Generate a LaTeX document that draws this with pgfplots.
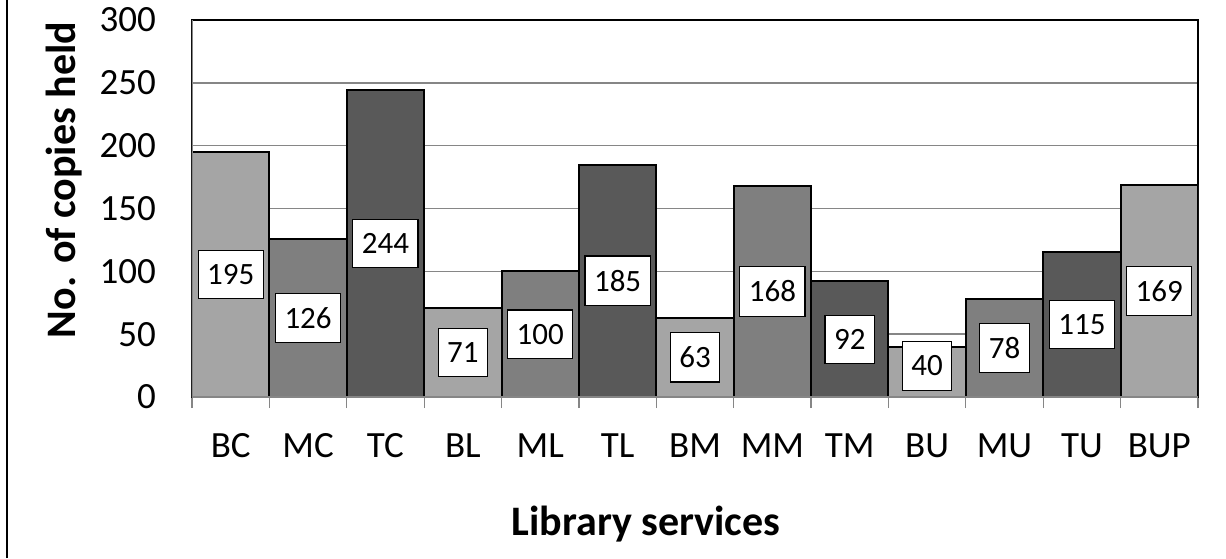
\documentclass[border=0pt]{standalone}
\usepackage{pgfplots}
\pgfplotsset{compat=1.18}
\usepackage{fontspec}
\setmainfont{Carlito}
\definecolor{barL}{HTML}{A5A5A5}
\definecolor{barM}{HTML}{7F7F7F}
\definecolor{barD}{HTML}{595959}
\definecolor{gridg}{HTML}{868686}
\begin{document}
\begin{tikzpicture}
\path[use as bounding box] (0,0) rectangle (613pt,279pt);
\draw[line width=1pt] (3.5pt,0) -- (3.5pt,279pt);
\begin{axis}[
 at={(96pt,80.5pt)}, anchor=south west,
 scale only axis, width=503pt, height=188.5pt,
 xmin=-0.5, xmax=12.5, ymin=0, ymax=300,
 ytick={0,50,...,300},
 xtick={0,...,12},
 xticklabels={BC,MC,TC,BL,ML,TL,BM,MM,TM,BU,MU,TU,BUP},
 minor xtick={-0.5,0.5,...,12.5},
 major tick length=0pt,
 minor tick length=5.5pt,
 tick align=outside,
 tick pos=left,
 minor tick style={gridg, line width=0.6pt},
 ymajorgrids, grid style={gridg, line width=0.75pt},
 axis line style={line width=1pt},
 ticklabel style={font=\fontsize{18.5}{20}\selectfont},
 /pgf/number format/assume math mode=true,
 yticklabel style={xshift=-14.5pt},
 xticklabel style={anchor=base, yshift=-30pt},
 visualization depends on={rawy \as \rawy},
 every node near coord/.append style={anchor=center, fill=white, draw=black, line width=0.6pt,
   font=\fontsize{15.5}{18}\selectfont, inner xsep=4.5pt, inner ysep=7pt,
   yshift={max(\rawy*0.3141667,15.5)*1pt-\rawy*0.6283333*1pt}},
]
\addplot[ybar, bar width=1, fill=barL, draw=black, line width=1pt, nodes near coords]
  coordinates {(0,195) (3,71) (6,63) (9,40) (12,169)};
\addplot[ybar, bar width=1, fill=barM, draw=black, line width=1pt, nodes near coords]
  coordinates {(1,126) (4,100) (7,168) (10,78)};
\addplot[ybar, bar width=1, fill=barD, draw=black, line width=1pt, nodes near coords]
  coordinates {(2,244) (5,185) (8,92) (11,115)};
\draw[gridg, line width=1pt] (rel axis cs:0,1) -- (rel axis cs:0,0) -- (rel axis cs:1,0);
\end{axis}
\node[anchor=base, font=\fontsize{21}{24}\selectfont\bfseries] at (323pt,11.5pt) {Library services};
\node[anchor=base, rotate=90, font=\fontsize{21}{24}\selectfont\bfseries] at (37.5pt,189pt) {No. of copies held};
\end{tikzpicture}
\end{document}
